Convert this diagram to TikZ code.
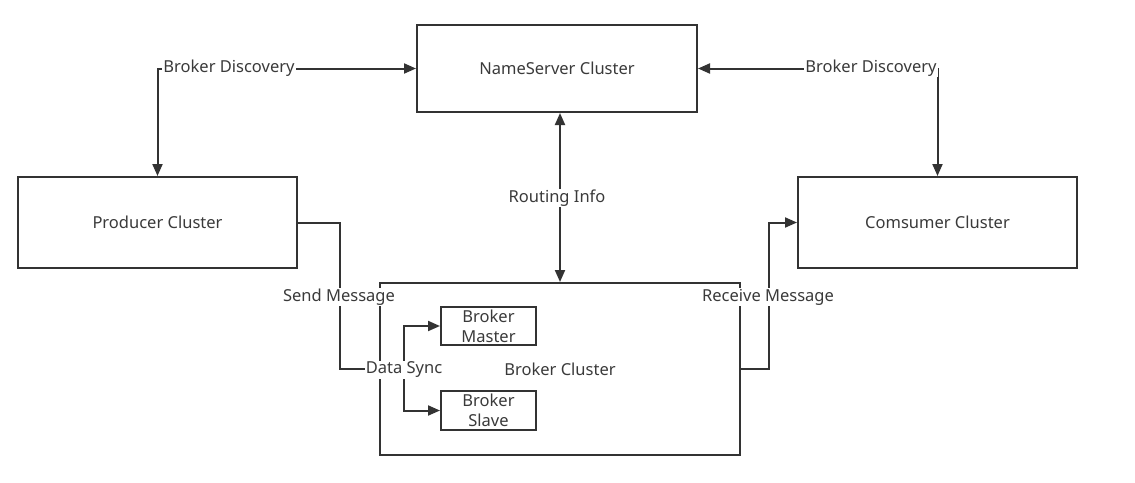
\documentclass[tikz,border=0pt]{standalone}
\usepackage{fontspec}
\setmainfont{Noto Sans}
\usetikzlibrary{arrows.meta}
\definecolor{lc}{HTML}{333333}
\definecolor{tc}{HTML}{3a3a3a}
\begin{document}
\begin{tikzpicture}[x=1pt,y=-1pt,
  box/.style={draw=lc, line width=2pt, inner sep=0pt, text=tc, font=\fontsize{16.5}{20}\selectfont, align=center},
  conn/.style={draw=lc, line width=2pt, {Triangle[length=12pt,width=10pt]}-{Triangle[length=12pt,width=10pt]}},
  oneway/.style={draw=lc, line width=2pt, -{Triangle[length=12pt,width=10pt]}},
  lbl/.style={fill=white, text=tc, inner sep=1pt, font=\fontsize{16.5}{20}\selectfont}]
\useasboundingbox (0,0) rectangle (1135,482);
\node[box, minimum width=280pt, minimum height=87pt] (ns) at (557,68.5) {NameServer Cluster};
\node[box, minimum width=279pt, minimum height=91pt] (prod) at (157.5,222.5) {Producer Cluster};
\node[box, minimum width=279pt, minimum height=91pt] (cons) at (937.5,222.5) {Comsumer Cluster};
\node[box, minimum width=360pt, minimum height=172pt] (bc) at (560,369) {Broker Cluster};
\node[box, minimum width=95pt, minimum height=38pt] (master) at (488.5,326) {Broker\\Master};
\node[box, minimum width=95pt, minimum height=39pt] (slave) at (488.5,410.5) {Broker\\Slave};
\coordinate (dsc) at (404,370);
% connectors
\draw[conn] (prod.north) |- (ns.west);
\draw[conn] (ns.east) -| (cons.north);
\draw[conn] (bc.north |- ns.south) -- (bc.north);
\draw[oneway] (prod.east) -- ++(42,0) |- (bc.west);
\draw[oneway] (bc.east) -- ++(28,0) |- (cons.west);
\draw[oneway] (dsc) |- (master.west);
\draw[oneway] (dsc) |- (slave.west);
% labels
\node[lbl] (l1) at (229,68) {Broker Discovery};
\node[lbl] (l2) at (871,68) {Broker Discovery};
\node[lbl] (l3) at (557,198) {Routing Info};
\node[lbl] (l4) at (339,297) {Send Message};
\node[lbl] (l5) at (768,297) {Receive Message};
\node[lbl] (l6) at (dsc) {Data Sync};
\end{tikzpicture}
\end{document}
